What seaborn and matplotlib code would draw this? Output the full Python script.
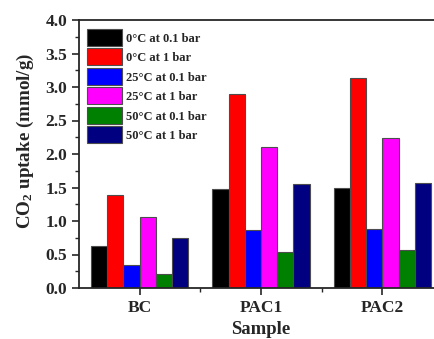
import matplotlib
matplotlib.use("Agg")
import matplotlib.pyplot as plt
import seaborn as sns
import pandas as pd
from matplotlib.ticker import MultipleLocator, FixedLocator, FormatStrFormatter

samples = ["BC", "PAC1", "PAC2"]
conditions = ["0°C at 0.1 bar", "0°C at 1 bar", "25°C at 0.1 bar",
              "25°C at 1 bar", "50°C at 0.1 bar", "50°C at 1 bar"]
v_0_01 = [0.63, 1.48, 1.50]
v_0_1 = [1.39, 2.89, 3.13]
v_25_01 = [0.34, 0.86, 0.88]
v_25_1 = [1.06, 2.11, 2.24]
v_50_01 = [0.21, 0.53, 0.57]
v_50_1 = [0.74, 1.55, 1.56]
colors = ["#000000", "#FF0000", "#0000FF", "#FF00FF", "#008000", "#000080"]

series = [v_0_01, v_0_1, v_25_01, v_25_1, v_50_01, v_50_1]
rows = []
for cond, vals in zip(conditions, series):
    for s, v in zip(samples, vals):
        rows.append({"Sample": s, "Condition": cond, "Uptake": v})
df = pd.DataFrame(rows)

sns.set_style("ticks")
plt.rcParams["font.family"] = ["Liberation Serif", "DejaVu Serif"]
plt.rcParams["font.weight"] = "bold"
plt.rcParams["mathtext.fontset"] = "custom"
plt.rcParams["mathtext.rm"] = "Liberation Serif:bold"
plt.rcParams["mathtext.bf"] = "Liberation Serif:bold"
plt.rcParams["mathtext.it"] = "Liberation Serif:bold"

W, H = 434, 339
fig = plt.figure(figsize=(W / 100, H / 100), dpi=100)
ax_l, ax_r, ax_t, ax_b = 79, 443, 20, 288
ax = fig.add_axes([ax_l / W, 1 - ax_b / H, (ax_r - ax_l) / W, (ax_b - ax_t) / H])

sns.barplot(data=df, x="Sample", y="Uptake", hue="Condition", order=samples,
            hue_order=conditions, palette=colors, width=0.8, ax=ax,
            edgecolor="#4d4d4d", linewidth=0.8, saturation=1, errorbar=None)

ax.set_xlim(-0.5, 2.5)
ax.set_ylim(0, 4.0)
ax.yaxis.set_major_locator(MultipleLocator(0.5))
ax.yaxis.set_minor_locator(MultipleLocator(0.25))
ax.xaxis.set_minor_locator(FixedLocator([0.5, 1.5]))
ax.yaxis.set_major_formatter(FormatStrFormatter("%.1f"))
ax.tick_params(axis="both", which="major", direction="out", length=5, width=1.2,
               labelsize=12.5)
ax.tick_params(axis="both", which="minor", direction="out", length=3, width=1.0)
for lab in ax.get_xticklabels() + ax.get_yticklabels():
    lab.set_fontweight("bold")
for sp in ax.spines.values():
    sp.set_visible(True)
    sp.set_linewidth(1.3)

aw, ah = ax_r - ax_l, ax_b - ax_t
ax.set_xlabel("Sample", fontsize=13.5, fontweight="bold", labelpad=4)
ax.set_ylabel("CO$_2$ uptake (mmol/g)", fontsize=13.7, fontweight="bold")
ax.yaxis.set_label_coords((36 - ax_l) / aw, (ax_b - 141) / ah)

ax.legend(loc="upper left", bbox_to_anchor=(8 / aw, 1 - 9 / ah), frameon=False,
          prop={"family": "Liberation Serif", "weight": "bold", "size": 9},
          handlelength=2.8, handleheight=1.715, labelspacing=0.2,
          handletextpad=0.35, borderaxespad=0, borderpad=0)

fig.savefig("out.png", dpi=100)
